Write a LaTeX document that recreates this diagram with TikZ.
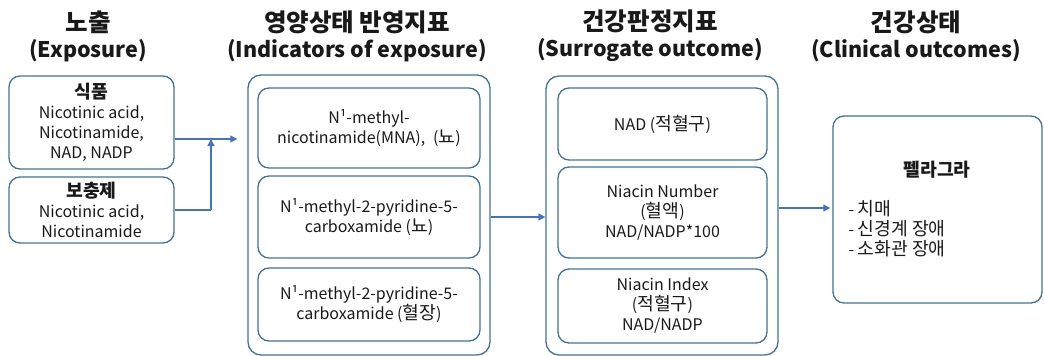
\documentclass[tikz,border=0pt]{standalone}
\usepackage{fontspec}
\setmainfont{Noto Sans CJK KR}
\newfontfamily\hangulfont{Noto Sans CJK KR}[Scale=1.14]
\newcommand{\hangul}[1]{{\hangulfont #1}}
\usetikzlibrary{arrows.meta}
\definecolor{boxline}{RGB}{65,113,156}
\definecolor{arrowblue}{RGB}{68,114,196}
\definecolor{ink}{RGB}{25,25,25}
\begin{document}
\begin{tikzpicture}[x=1pt,y=-1pt,
  header/.style={align=center,font=\fontsize{21.5}{26}\selectfont\bfseries,text=ink},
  body/.style={align=center,font=\fontsize{16}{20}\selectfont,text=ink},
  card/.style={draw=boxline,line width=1.3pt,rounded corners=11pt,inner sep=0pt},
  group/.style={draw=boxline,line width=1.3pt,rounded corners=13pt,inner sep=0pt},
  arr/.style={draw=arrowblue,line width=1.3pt,-{Triangle[width=7pt,length=7pt]}},
  link/.style={draw=arrowblue,line width=1.3pt}]
\useasboundingbox (0,0) rectangle (1044,356);

% column headings
\node[header] (h1) at (88,36) {\hangul{노출}\\(Exposure)};
\node[header] (h2) at (357,36) {\hangul{영양상태 반영지표}\\(Indicators of exposure)};
\node[header] (h3) at (650,36) {\hangul{건강판정지표}\\(Surrogate outcome)};
\node[header] (h4) at (916,36) {\hangul{건강상태}\\(Clinical outcomes)};

% exposure sources
\node[card,body,minimum width=165pt,minimum height=93pt] (food) at (91.5,122.5)
  {\textbf{\hangul{식품}}\\Nicotinic acid,\\Nicotinamide,\\NAD, NADP};
\node[card,body,minimum width=165pt,minimum height=66pt] (supp) at (91.5,210)
  {\textbf{\hangul{보충제}}\\Nicotinic acid,\\Nicotinamide};

% indicators of exposure
\node[group,minimum width=242pt,minimum height=280pt] (g2) at (369,215) {};
\node[card,body,minimum width=222pt,minimum height=80pt] (g2a) at (369,128)
  {N¹-methyl-\\nicotinamide(MNA),\enspace(\hangul{뇨})};
\node[card,body,minimum width=222pt,minimum height=82pt] (g2b) at (369,217)
  {N¹-methyl-2-pyridine-5-\\carboxamide (\hangul{뇨})};
\node[card,body,minimum width=222pt,minimum height=73pt] (g2c) at (369,304.5)
  {N¹-methyl-2-pyridine-5-\\carboxamide (\hangul{혈장})};

% surrogate outcome
\node[group,minimum width=232pt,minimum height=279pt] (g3) at (662,215.5) {};
\node[card,body,minimum width=209pt,minimum height=72pt] (g3a) at (662.5,124)
  {NAD (\hangul{적혈구})};
\node[card,body,minimum width=209pt,minimum height=91pt] (g3b) at (662.5,212.5)
  {Niacin Number\\(\hangul{혈액})\\NAD/NADP*100};
\node[card,body,minimum width=209pt,minimum height=74pt] (g3c) at (662.5,306)
  {Niacin Index\\(\hangul{적혈구})\\NAD/NADP};

% clinical outcomes
\node[card,minimum width=209pt,minimum height=187pt] (out) at (937.5,209.5) {};
\node[body,font=\fontsize{16}{20}\selectfont\bfseries] (pel) at (937,170) {\hangul{펠라그라}};
\node[body,align=left,anchor=west] (sym) at (845,229)
  {- \hangul{치매}\\- \hangul{신경계 장애}\\- \hangul{소화관 장애}};

% connectors
\coordinate (join) at (211,139);
\coordinate (mid) at (0,208);
\draw[arr,shorten >=10pt] (food.east |- join) -- (g2.west |- join);
\draw[link] (supp.east) -- (join |- supp.east);
\draw[arr] (join |- supp.east) -- (join);
\draw[arr] (g2.east |- 0,217) -- (g3.west |- 0,217);
\draw[arr,shorten >=2pt] (g3.east |- mid) -- (out.west |- mid);
\end{tikzpicture}
\end{document}
